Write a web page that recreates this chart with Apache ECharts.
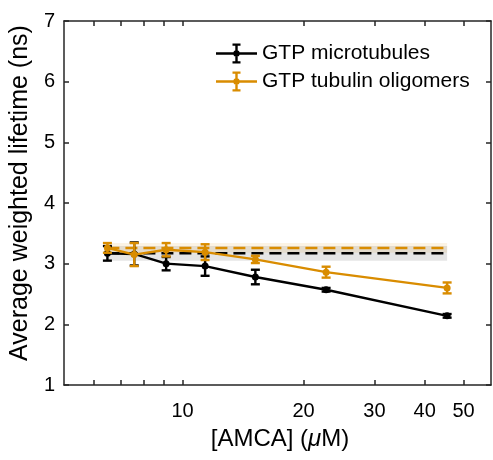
<!DOCTYPE html>
<html>
<head>
<meta charset="utf-8">
<script src="https://cdn.jsdelivr.net/npm/echarts@6/dist/echarts.min.js"></script>
<style>
html, body { margin: 0; padding: 0; background: #fff; }
#chart { width: 493px; height: 460px; }
</style>
</head>
<body>
<div id="chart"></div>
<script>
// AMCA concentration (µM) for each titration point
const concentration = [6.5, 7.58, 9.1, 11.375, 15.17, 22.75, 45.5];
// Average weighted lifetime (ns) with error
const mtLifetime = [3.17, 3.16, 3.00, 2.96, 2.78, 2.57, 2.14];
const mtError = [0.12, 0.19, 0.11, 0.16, 0.12, 0.03, 0.03];
const oligoLifetime = [3.26, 3.15, 3.23, 3.19, 3.07, 2.86, 2.60];
const oligoError = [0.08, 0.19, 0.11, 0.13, 0.06, 0.09, 0.09];
// Reference lifetime (mean and spread): microtubules, oligomers
const plateauMean = [3.17, 3.26];
const plateauSpread = [0.12, 0.08];
const seriesNames = ['GTP microtubules', 'GTP tubulin oligomers'];
const seriesColors = ['#000000', '#D98C00'];
const xTickValues = [6, 7, 8, 9, 10, 20, 30, 40, 50];
const xLabelValues = [10, 20, 30, 40, 50];
const yTickValues = [1, 2, 3, 4, 5, 6, 7];

const FONT = '"Liberation Sans", Arial, Helvetica, sans-serif';
const AXIS_COLOR = '#262626';
const X_MIN = 5.07, X_MAX = 58.5;

const legendIcon = 'path://M0 8.8H41V11.2H0Z M19.3 1H21.7V19H19.3Z M16.5 0H24.5V2.2H16.5Z M16.5 17.8H24.5V20H16.5Z M23.7 10A3.2 3.2 0 1 1 17.3 10A3.2 3.2 0 1 1 23.7 10Z';

function errorBarRenderer(color) {
  return function (params, api) {
    const x = api.value(0), y = api.value(1), e = api.value(2);
    const top = api.coord([x, y + e]);
    const bot = api.coord([x, y - e]);
    const half = 4.5;
    const style = { stroke: color, lineWidth: 2.4 };
    return {
      type: 'group',
      children: [
        { type: 'line', shape: { x1: top[0], y1: top[1], x2: bot[0], y2: bot[1] }, style: style },
        { type: 'line', shape: { x1: top[0] - half, y1: top[1], x2: top[0] + half, y2: top[1] }, style: style },
        { type: 'line', shape: { x1: bot[0] - half, y1: bot[1], x2: bot[0] + half, y2: bot[1] }, style: style }
      ]
    };
  };
}

const xFirst = concentration[0];
const xLast = concentration[concentration.length - 1];
const bandColors = ['rgba(0,0,0,0.1)', 'rgba(217,140,0,0.1)'];

const bandData = plateauMean.map((m, i) => [xFirst, xLast, m - plateauSpread[i], m + plateauSpread[i], i]);

function bandRenderer(params, api) {
  const p0 = api.coord([api.value(0), api.value(3)]);
  const p1 = api.coord([api.value(1), api.value(2)]);
  return {
    type: 'rect',
    shape: { x: p0[0], y: p0[1], width: p1[0] - p0[0], height: p1[1] - p0[1] },
    style: { fill: bandColors[api.value(4)] }
  };
}

function makeXAxis(position, showLabels) {
  return {
    type: 'log',
    logBase: 10,
    position: position,
    min: X_MIN,
    max: X_MAX,
    axisLine: { show: true, onZero: false, lineStyle: { color: AXIS_COLOR, width: 1.5 } },
    axisTick: { show: true, inside: true, length: 5, customValues: xTickValues, lineStyle: { color: AXIS_COLOR, width: 1.5 } },
    minorTick: { show: false },
    splitLine: { show: false },
    axisLabel: {
      show: showLabels,
      customValues: xLabelValues,
      margin: 16,
      fontFamily: FONT,
      fontSize: 20,
      color: '#000'
    },
    name: showLabels ? '[AMCA] ({i|μ}M)' : '',
    nameLocation: 'middle',
    nameGap: 42,
    nameTextStyle: {
      fontFamily: FONT,
      fontSize: 24,
      color: '#000',
      padding: [0, 0, 0, 5],
      rich: { i: { fontFamily: FONT, fontSize: 24, fontStyle: 'italic', color: '#000' } }
    }
  };
}

function makeYAxis(position, showLabels) {
  return {
    type: 'value',
    position: position,
    min: yTickValues[0],
    max: yTickValues[yTickValues.length - 1],
    interval: 1,
    axisLine: { show: true, lineStyle: { color: AXIS_COLOR, width: 1.5 } },
    axisTick: { show: true, inside: true, length: 5, lineStyle: { color: AXIS_COLOR, width: 1.5 } },
    splitLine: { show: false },
    axisLabel: {
      show: showLabels,
      margin: 9,
      fontFamily: FONT,
      fontSize: 20,
      color: '#000',
      padding: [6, 0, 0, 0]
    },
    name: showLabels ? 'Average weighted lifetime (ns)' : '',
    nameLocation: 'middle',
    nameGap: 27,
    nameTextStyle: {
      fontFamily: FONT,
      fontSize: 25,
      color: '#000',
      padding: [0, 0, 0, 20]
    }
  };
}

const seriesPoints = [
  concentration.map((x, i) => [x, mtLifetime[i], mtError[i]]),
  concentration.map((x, i) => [x, oligoLifetime[i], oligoError[i]])
];

const series = [
  {
    type: 'custom',
    name: 'plateau-band',
    xAxisIndex: 0, yAxisIndex: 0,
    renderItem: bandRenderer,
    data: bandData,
    encode: { x: [0, 1], y: [2, 3] },
    silent: true,
    z: 1
  }
];

plateauMean.forEach((m, i) => {
  series.push({
    type: 'line',
    name: 'plateau-' + i,
    data: [[xFirst, m], [xLast, m]],
    symbol: 'none',
    lineStyle: { color: seriesColors[i], width: 2.5, type: [12, 6] },
    silent: true,
    z: 2
  });
});

seriesPoints.forEach((pts, i) => {
  series.push({
    type: 'line',
    name: seriesNames[i],
    data: pts.map(p => [p[0], p[1]]),
    symbol: 'circle',
    symbolSize: 7,
    showSymbol: true,
    lineStyle: { color: seriesColors[i], width: 2.4 },
    itemStyle: { color: seriesColors[i] },
    z: 3 + i
  });
  series.push({
    type: 'custom',
    name: seriesNames[i] + ' error',
    renderItem: errorBarRenderer(seriesColors[i]),
    data: pts,
    encode: { x: 0, y: 1 },
    z: 3 + i
  });
});

const chart = echarts.init(document.getElementById('chart'), null, { renderer: 'canvas' });
chart.setOption({
  animation: false,
  backgroundColor: '#ffffff',
  grid: { left: 64, right: 2, top: 21, bottom: 75, containLabel: false },
  xAxis: [makeXAxis('bottom', true), makeXAxis('top', false)],
  yAxis: [makeYAxis('left', true), makeYAxis('right', false)],
  legend: {
    data: seriesNames,
    orient: 'vertical',
    left: 211,
    top: 38,
    icon: legendIcon,
    itemWidth: 41,
    itemHeight: 20,
    itemGap: 7,
    selectedMode: false,
    textStyle: { fontFamily: FONT, fontSize: 21, color: '#000', lineHeight: 21 },
    itemStyle: { borderWidth: 0 },
    lineStyle: { width: 0 }
  },
  series: series
});
</script>
</body>
</html>
